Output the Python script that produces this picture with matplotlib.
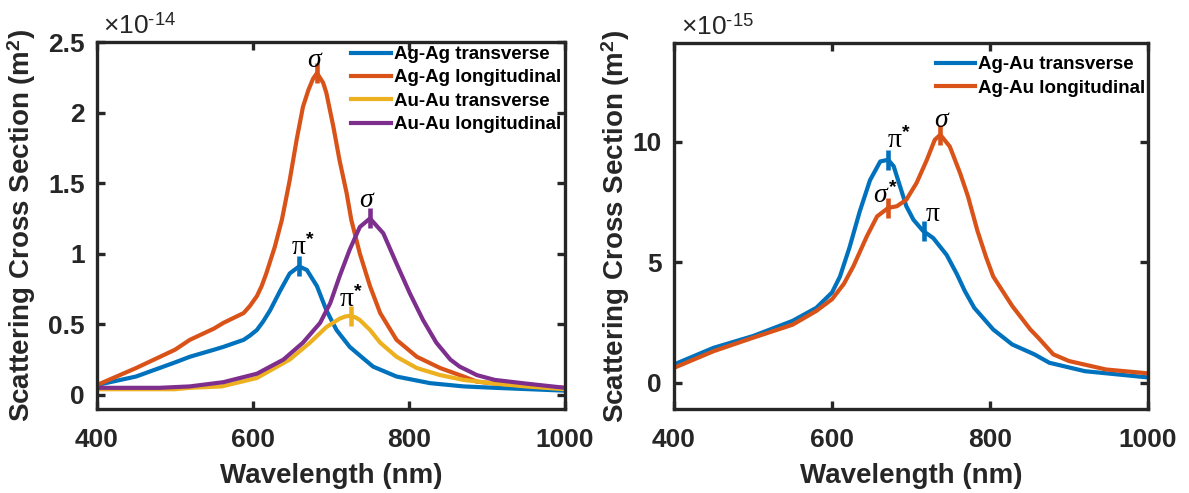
import numpy as np
import matplotlib.pyplot as plt
from matplotlib.ticker import FuncFormatter

# --- data (cross sections in units of the axis multiplier) ---
# left panel, x1e-14 m^2
agag_tr_wl = [400, 450, 500, 519, 550, 562, 588, 596, 605, 613, 622, 635, 647,
              659, 669, 682, 694, 707, 724, 741, 754, 784, 827, 870, 910, 1000]
agag_tr = [0.07, 0.13, 0.23, 0.27, 0.32, 0.34, 0.39, 0.42, 0.46, 0.52, 0.60,
           0.74, 0.86, 0.91, 0.885, 0.77, 0.60, 0.46, 0.34, 0.26, 0.20, 0.13,
           0.083, 0.06, 0.05, 0.03]

agag_lo_wl = [400, 450, 500, 519, 550, 562, 588, 596, 605, 611, 617, 628, 637,
              647, 656, 664, 671, 677, 682, 690, 694, 703, 711, 720, 726, 737,
              750, 763, 784, 810, 840, 870, 887, 910, 950, 1000]
agag_lo = [0.07, 0.19, 0.32, 0.39, 0.47, 0.51, 0.58, 0.63, 0.70, 0.77, 0.86,
           1.05, 1.24, 1.52, 1.81, 2.04, 2.16, 2.24, 2.28, 2.21, 2.14, 1.90,
           1.66, 1.43, 1.24, 1.00, 0.77, 0.58, 0.39, 0.27, 0.19, 0.13, 0.094,
           0.08, 0.065, 0.05]

auau_tr_wl = [400, 500, 519, 560, 605, 647, 673, 694, 711, 718, 724, 731, 737,
              750, 763, 784, 810, 840, 870, 910, 950, 1000]
auau_tr = [0.04, 0.04, 0.05, 0.06, 0.12, 0.25, 0.37, 0.48, 0.54, 0.555, 0.56,
           0.55, 0.53, 0.46, 0.37, 0.27, 0.19, 0.14, 0.106, 0.08, 0.06, 0.04]

auau_lo_wl = [400, 480, 519, 562, 605, 639, 664, 686, 699, 711, 724, 737, 750,
              767, 784, 801, 818, 835, 853, 865, 878, 887, 910, 950, 1000]
auau_lo = [0.05, 0.05, 0.06, 0.09, 0.15, 0.25, 0.37, 0.51, 0.65, 0.84, 1.03,
           1.19, 1.25, 1.145, 0.93, 0.72, 0.53, 0.37, 0.25, 0.20, 0.165, 0.14,
           0.106, 0.08, 0.05]

# right panel, x1e-15 m^2
agau_tr_wl = [400, 450, 500, 550, 580, 600, 610, 622, 635, 648, 661, 671, 678,
              686, 694, 703, 715, 728, 745, 758, 768, 780, 804, 828, 856, 875,
              920, 1000]
agau_tr = [0.75, 1.44, 1.93, 2.56, 3.1, 3.74, 4.4, 5.6, 7.1, 8.4, 9.18, 9.25,
           8.98, 8.15, 7.32, 6.76, 6.3, 6.0, 5.3, 4.5, 3.8, 3.1, 2.2, 1.58,
           1.17, 0.82, 0.47, 0.21]

agau_lo_wl = [400, 450, 500, 550, 580, 600, 615, 627, 644, 657, 671, 682, 694,
              707, 720, 730, 737, 749, 762, 772, 784, 795, 804, 828, 851, 861,
              880, 900, 947, 1000]
agau_lo = [0.61, 1.3, 1.86, 2.4, 2.97, 3.46, 4.1, 4.83, 6.07, 6.9, 7.25, 7.32,
           7.59, 8.29, 9.25, 10.08, 10.29, 9.8, 8.7, 7.73, 6.3, 5.2, 4.4, 3.18,
           2.2, 1.86, 1.17, 0.89, 0.54, 0.38]

# peak markers: (wavelength, value, colour)
left_marks = [(659, 0.91, 'blue'), (682, 2.28, 'orange'),
              (725, 0.56, 'yellow'), (750, 1.25, 'purple')]
right_marks = [(671, 9.25, 'blue'), (716, 6.28, 'blue'),
               (671, 7.25, 'orange'), (737, 10.29, 'orange')]

C = {'blue': '#0072BD', 'orange': '#D95319', 'yellow': '#EDB120',
     'purple': '#7E2F8E'}
INK = '#262626'

plt.rcParams['font.family'] = 'Liberation Sans'
plt.rcParams['mathtext.fontset'] = 'custom'
plt.rcParams['mathtext.rm'] = 'Liberation Sans'
plt.rcParams['mathtext.it'] = 'Liberation Serif:italic'
plt.rcParams['mathtext.bf'] = 'Liberation Sans:bold'

fig = plt.figure(figsize=(11.89, 4.93), dpi=100)
ax1 = fig.add_axes([0.0816, 0.1704, 0.3936, 0.7444])
ax2 = fig.add_axes([0.5669, 0.1704, 0.3987, 0.7424])

lw = 3.0
ax1.plot(agag_tr_wl, agag_tr, color=C['blue'], lw=lw, label='Ag-Ag transverse')
ax1.plot(agag_lo_wl, agag_lo, color=C['orange'], lw=lw, label='Ag-Ag longitudinal')
ax1.plot(auau_tr_wl, auau_tr, color=C['yellow'], lw=lw, label='Au-Au transverse')
ax1.plot(auau_lo_wl, auau_lo, color=C['purple'], lw=lw, label='Au-Au longitudinal')

ax2.plot(agau_tr_wl, agau_tr, color=C['blue'], lw=lw, label='Ag-Au transverse')
ax2.plot(agau_lo_wl, agau_lo, color=C['orange'], lw=lw, label='Ag-Au longitudinal')

for ax, marks in ((ax1, left_marks), (ax2, right_marks)):
    for x, y, c in marks:
        ax.plot(x, y, marker='|', ms=14, mew=3.3, color=C[c])

# peak labels: sigma italic, pi upright serif
fs_g = 20
sig = dict(va='baseline', fontsize=fs_g)
pis = dict(va='baseline', fontsize=fs_g, family='Liberation Serif')
ax1.text(680, 2.32, r'$\sigma$', ha='center', **sig)
ax1.text(747, 1.33, r'$\sigma$', ha='center', **sig)
ax1.text(664, 0.99, r'π$^{\mathbf{*}}$', ha='center', **pis)
ax1.text(726, 0.625, r'π$^{\mathbf{*}}$', ha='center', **pis)

ax2.text(669, 9.75, r'π$^{\mathbf{*}}$', ha='left', **pis)
ax2.text(667, 7.47, r'$\sigma^{\mathbf{*}}$', ha='center', **sig)
ax2.text(719, 6.7, 'π', ha='left', **pis)
ax2.text(740, 10.6, r'$\sigma$', ha='center', **sig)

fmt = FuncFormatter(lambda v, p: '%g' % v)
for ax in (ax1, ax2):
    ax.set_xlim(400, 1000)
    ax.set_xticks([400, 600, 800, 1000])
    ax.yaxis.set_major_formatter(fmt)
    ax.tick_params(direction='in', length=6, width=2.4, labelsize=19,
                   top=True, right=True, colors=INK)
    ax.tick_params(axis='x', pad=14)
    ax.tick_params(axis='y', pad=9)
    for s in ax.spines.values():
        s.set_linewidth(2.4)
        s.set_color(INK)
    ax.set_xlabel('Wavelength (nm)', fontsize=20, fontweight='bold', color=INK)
    ax.set_ylabel(r'Scattering Cross Section (m$^{\mathbf{2}}$)', fontsize=20,
                  fontweight='bold', color=INK)
    ax.xaxis.set_label_coords(0.5, -0.147)

ax1.set_ylim(-0.1, 2.5)
ax1.set_yticks([0, 0.5, 1, 1.5, 2, 2.5])
ax1.yaxis.set_label_coords(-0.126, 0.5)
ax2.set_ylim(-1.1, 14.1)
ax2.set_yticks([0, 5, 10])
ax2.yaxis.set_label_coords(-0.089, 0.5)

for ax in (ax1, ax2):
    for t in ax.get_xticklabels() + ax.get_yticklabels():
        t.set_fontweight('bold')

leg_kw = dict(loc='upper right', frameon=False,
              prop={'weight': 'bold', 'size': 13.5}, handlelength=2.1,
              handletextpad=0.15, labelspacing=0.33, borderaxespad=0,
              borderpad=0)
ax1.legend(bbox_to_anchor=(0.991, 0.989), **leg_kw)
ax2.legend(bbox_to_anchor=(0.994, 0.964), **leg_kw)

ax1.text(0.013, 1.022, r'$\times$10$^{\text{-14}}$', transform=ax1.transAxes,
         fontsize=19, color=INK, va='baseline')
ax2.text(0.015, 1.024, r'$\times$10$^{\text{-15}}$', transform=ax2.transAxes,
         fontsize=19, color=INK, va='baseline')

fig.savefig('out.png', dpi=100)
